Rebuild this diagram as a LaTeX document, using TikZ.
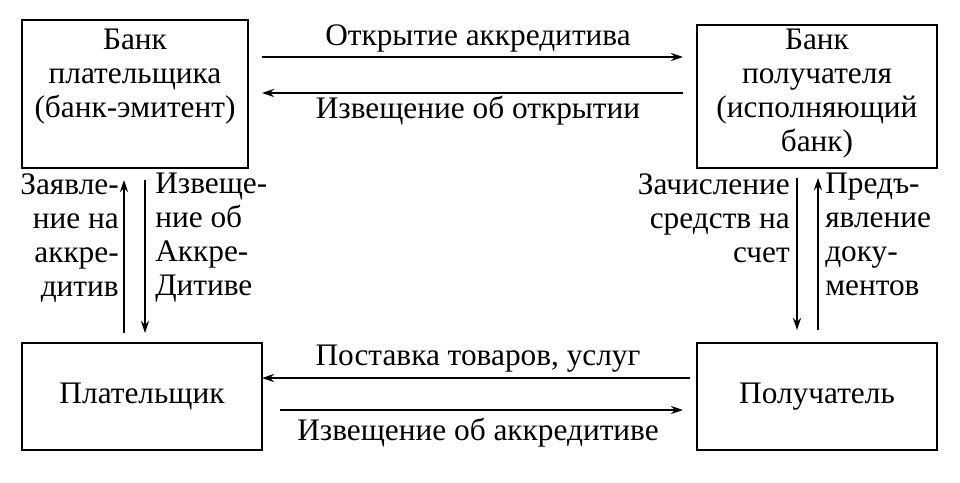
\documentclass[tikz,border=0pt]{standalone}
\usepackage{fontspec}
\setmainfont{Liberation Serif}
\usetikzlibrary{arrows.meta}
\begin{document}
\begin{tikzpicture}[x=0.75pt,y=-0.75pt,
  box/.style={draw,line width=1pt,inner sep=0pt},
  lbl/.style={font=\fontsize{23.5}{25.5}\selectfont,inner sep=0pt},
  arr/.style={-{Stealth[length=9pt,width=6pt]},line width=1pt}]
\useasboundingbox (0,0) rectangle (960,482);
\node[box,minimum width=226*0.75pt,minimum height=148*0.75pt] (bp) at (135,94) {};
\node[box,minimum width=240*0.75pt,minimum height=143*0.75pt] (br) at (817,96.5) {};
\node[box,minimum width=240*0.75pt,minimum height=107*0.75pt] (p) at (142,396.5) {};
\node[box,minimum width=240*0.75pt,minimum height=107*0.75pt] (r) at (817,396.5) {};
\node[lbl,align=center] at (135,77) {Банк\\плательщика\\(банк-эмитент)};
\node[lbl,align=center] at (817,94) {Банк\\получателя\\(исполняющий\\банк)};
\node[lbl] at (p) {Плательщик};
\node[lbl] at (r) {Получатель};
% top arrows
\coordinate (a1) at (262,57); \coordinate (a2) at (683,57);
\draw[arr] (a1) -- (a2);
\coordinate (b1) at (683,93); \coordinate (b2) at (262,93);
\draw[arr] (b1) -- (b2);
\node[lbl] (t1) at (478,38) {Открытие аккредитива};
\node[lbl] (t2) at (478,111) {Извещение об открытии};
% bottom arrows
\coordinate (c1) at (690,378); \coordinate (c2) at (262,378);
\draw[arr] (c1) -- (c2);
\coordinate (d1) at (280,410); \coordinate (d2) at (683,410);
\draw[arr] (d1) -- (d2);
\node[lbl] (t3) at (478,359) {Поставка товаров, услуг};
\node[lbl] (t4) at (478,433) {Извещение об аккредитиве};
% left verticals
\coordinate (e1) at (124,333); \coordinate (e2) at (124,180);
\draw[arr] (e1) -- (e2);
\coordinate (f1) at (145,180); \coordinate (f2) at (145,333);
\draw[arr] (f1) -- (f2);
\node[lbl,align=right,anchor=north east] (t5) at (119,173) {Заявле-\\ние на\\аккре-\\дитив};
\node[lbl,align=left,anchor=north west] (t6) at (155,173) {Извеще-\\ние об\\Аккре-\\Дитиве};
% right verticals
\coordinate (g1) at (797,178); \coordinate (g2) at (797,330);
\draw[arr] (g1) -- (g2);
\coordinate (h1) at (818,330); \coordinate (h2) at (818,178);
\draw[arr] (h1) -- (h2);
\node[lbl,align=right,anchor=north east] (t7) at (790,173) {Зачисление\\средств на\\счет};
\node[lbl,align=left,anchor=north west] (t8) at (825,173) {Предъ-\\явление\\доку-\\ментов};
\end{tikzpicture}
\end{document}
